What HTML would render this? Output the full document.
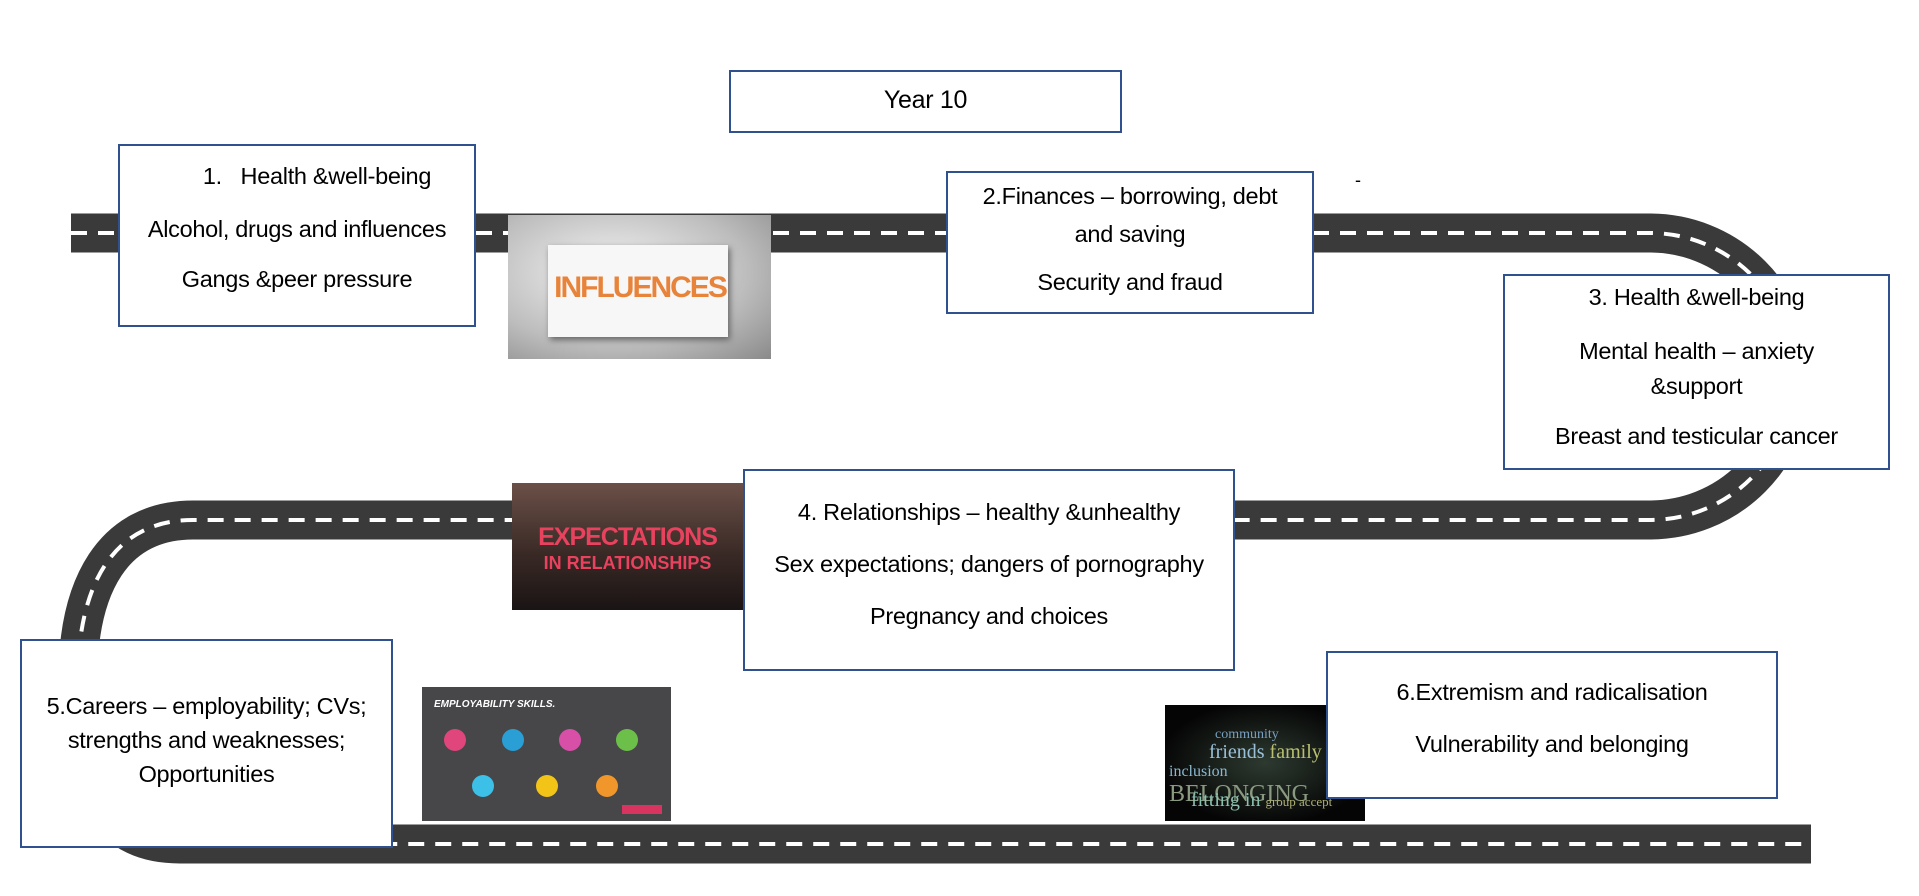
<!DOCTYPE html>
<html><head><meta charset="utf-8"><style>
html,body{margin:0;padding:0;background:#fff;}
body{width:1919px;height:896px;position:relative;overflow:hidden;font-family:"Liberation Sans",sans-serif;color:#000;}
.box{position:absolute;background:#fff;border:2px solid #2f528f;box-sizing:border-box;text-align:center;font-size:23.5px;}
.box p{margin:0;position:absolute;left:0;right:0;white-space:nowrap;letter-spacing:-0.3px;}
.img{position:absolute;overflow:hidden;}
</style></head><body>
<svg width="1919" height="896" style="position:absolute;left:0;top:0">
<g fill="none">
<path d="M71,233 H1650 A143.5,143.5 0 0 1 1650,520 H193 C110,520 80,590 78,670 C76,780 100,844 180,844 H1811" stroke="#3a3a3a" stroke-width="39"/>
<path d="M71,233 H1650 A143.5,143.5 0 0 1 1650,520 H193 C110,520 80,590 78,670 C76,780 100,844 180,844 H1811" stroke="#fff" stroke-width="4" stroke-dasharray="16,11"/>
</g>
</svg>

<div class="box" style="left:729px;top:70px;width:393px;height:63px;"><p style="top:14px;font-size:25px;">Year 10</p></div>

<div class="box" style="left:118px;top:144px;width:358px;height:183px;">
<p style="top:17px;padding-left:40px;">1.&nbsp;&nbsp; Health &amp;well-being</p>
<p style="top:70px;">Alcohol, drugs and influences</p>
<p style="top:120px;">Gangs &amp;peer pressure</p></div>

<div class="img" style="left:508px;top:215px;width:263px;height:144px;background:radial-gradient(ellipse at 40% 40%,#f4f4f4,#bdbdbd 60%,#8a8a8a);">
<div style="position:absolute;left:40px;top:30px;width:180px;height:92px;background:#f7f7f7;box-shadow:2px 3px 6px #666;"></div>
<div style="position:absolute;left:42px;top:56px;width:180px;text-align:center;font-weight:bold;font-size:30px;letter-spacing:-2px;color:#e8833a;">INFLUENCES</div></div>

<div class="box" style="left:946px;top:171px;width:368px;height:143px;">
<p style="top:10px;">2.Finances – borrowing, debt</p>
<p style="top:48px;">and saving</p>
<p style="top:96px;">Security and fraud</p></div>
<div style="position:absolute;left:1355px;top:170px;font-size:18px;">-</div>

<div class="box" style="left:1503px;top:274px;width:387px;height:196px;">
<p style="top:8px;">3. Health &amp;well-being</p>
<p style="top:62px;">Mental health – anxiety</p>
<p style="top:97px;">&amp;support</p>
<p style="top:147px;">Breast and testicular cancer</p></div>

<div class="img" style="left:512px;top:483px;width:231px;height:127px;background:linear-gradient(#6b5048,#3a2a26 55%,#1a1414);">
<div style="position:absolute;left:0;right:0;top:40px;text-align:center;font-weight:bold;font-size:25px;color:#e8425e;letter-spacing:-1px;">EXPECTATIONS</div>
<div style="position:absolute;left:0;right:0;top:70px;text-align:center;font-weight:bold;font-size:18px;color:#e8425e;">IN RELATIONSHIPS</div></div>

<div class="box" style="left:743px;top:469px;width:492px;height:202px;">
<p style="top:28px;">4. Relationships – healthy &amp;unhealthy</p>
<p style="top:80px;">Sex expectations; dangers of pornography</p>
<p style="top:132px;">Pregnancy and choices</p></div>

<div class="box" style="left:20px;top:639px;width:373px;height:209px;">
<p style="top:52px;">5.Careers – employability; CVs;</p>
<p style="top:86px;">strengths and weaknesses;</p>
<p style="top:120px;">Opportunities</p></div>

<div class="img" style="left:422px;top:687px;width:249px;height:134px;background:#47474a;">
<div style="position:absolute;left:12px;top:12px;font-weight:bold;font-style:italic;font-size:10px;color:#fff;">EMPLOYABILITY SKILLS.</div>
<div style="position:absolute;left:22px;top:42px;width:22px;height:22px;border-radius:50%;background:#e0457b;"></div>
<div style="position:absolute;left:80px;top:42px;width:22px;height:22px;border-radius:50%;background:#2a9fd6;"></div>
<div style="position:absolute;left:137px;top:42px;width:22px;height:22px;border-radius:50%;background:#d84fa8;"></div>
<div style="position:absolute;left:194px;top:42px;width:22px;height:22px;border-radius:50%;background:#6cc04a;"></div>
<div style="position:absolute;left:50px;top:88px;width:22px;height:22px;border-radius:50%;background:#3cc0e8;"></div>
<div style="position:absolute;left:114px;top:88px;width:22px;height:22px;border-radius:50%;background:#f2c418;"></div>
<div style="position:absolute;left:174px;top:88px;width:22px;height:22px;border-radius:50%;background:#f0962a;"></div>
<div style="position:absolute;left:200px;top:118px;width:40px;height:9px;background:#d8345f;"></div></div>

<div class="img" style="left:1165px;top:705px;width:200px;height:116px;background:radial-gradient(ellipse,#2d3a30,#050505 75%);font-family:'Liberation Serif',serif;">
<div style="position:absolute;left:50px;top:22px;font-size:14px;color:#7aa0c0;">community</div>
<div style="position:absolute;left:44px;top:36px;font-size:20px;color:#9ac0d8;">friends <span style="color:#b8c070">family</span></div>
<div style="position:absolute;left:4px;top:58px;font-size:16px;color:#8ab8d0;">inclusion <span style="font-size:24px;color:#8a9a80">BELONGING</span></div>
<div style="position:absolute;left:26px;top:84px;font-size:20px;color:#8ac0b0;">fitting in <span style="font-size:13px;color:#b0b070">group accept</span></div></div>

<div class="box" style="left:1326px;top:651px;width:452px;height:148px;">
<p style="top:26px;">6.Extremism and radicalisation</p>
<p style="top:78px;">Vulnerability and belonging</p></div>
</body></html>
